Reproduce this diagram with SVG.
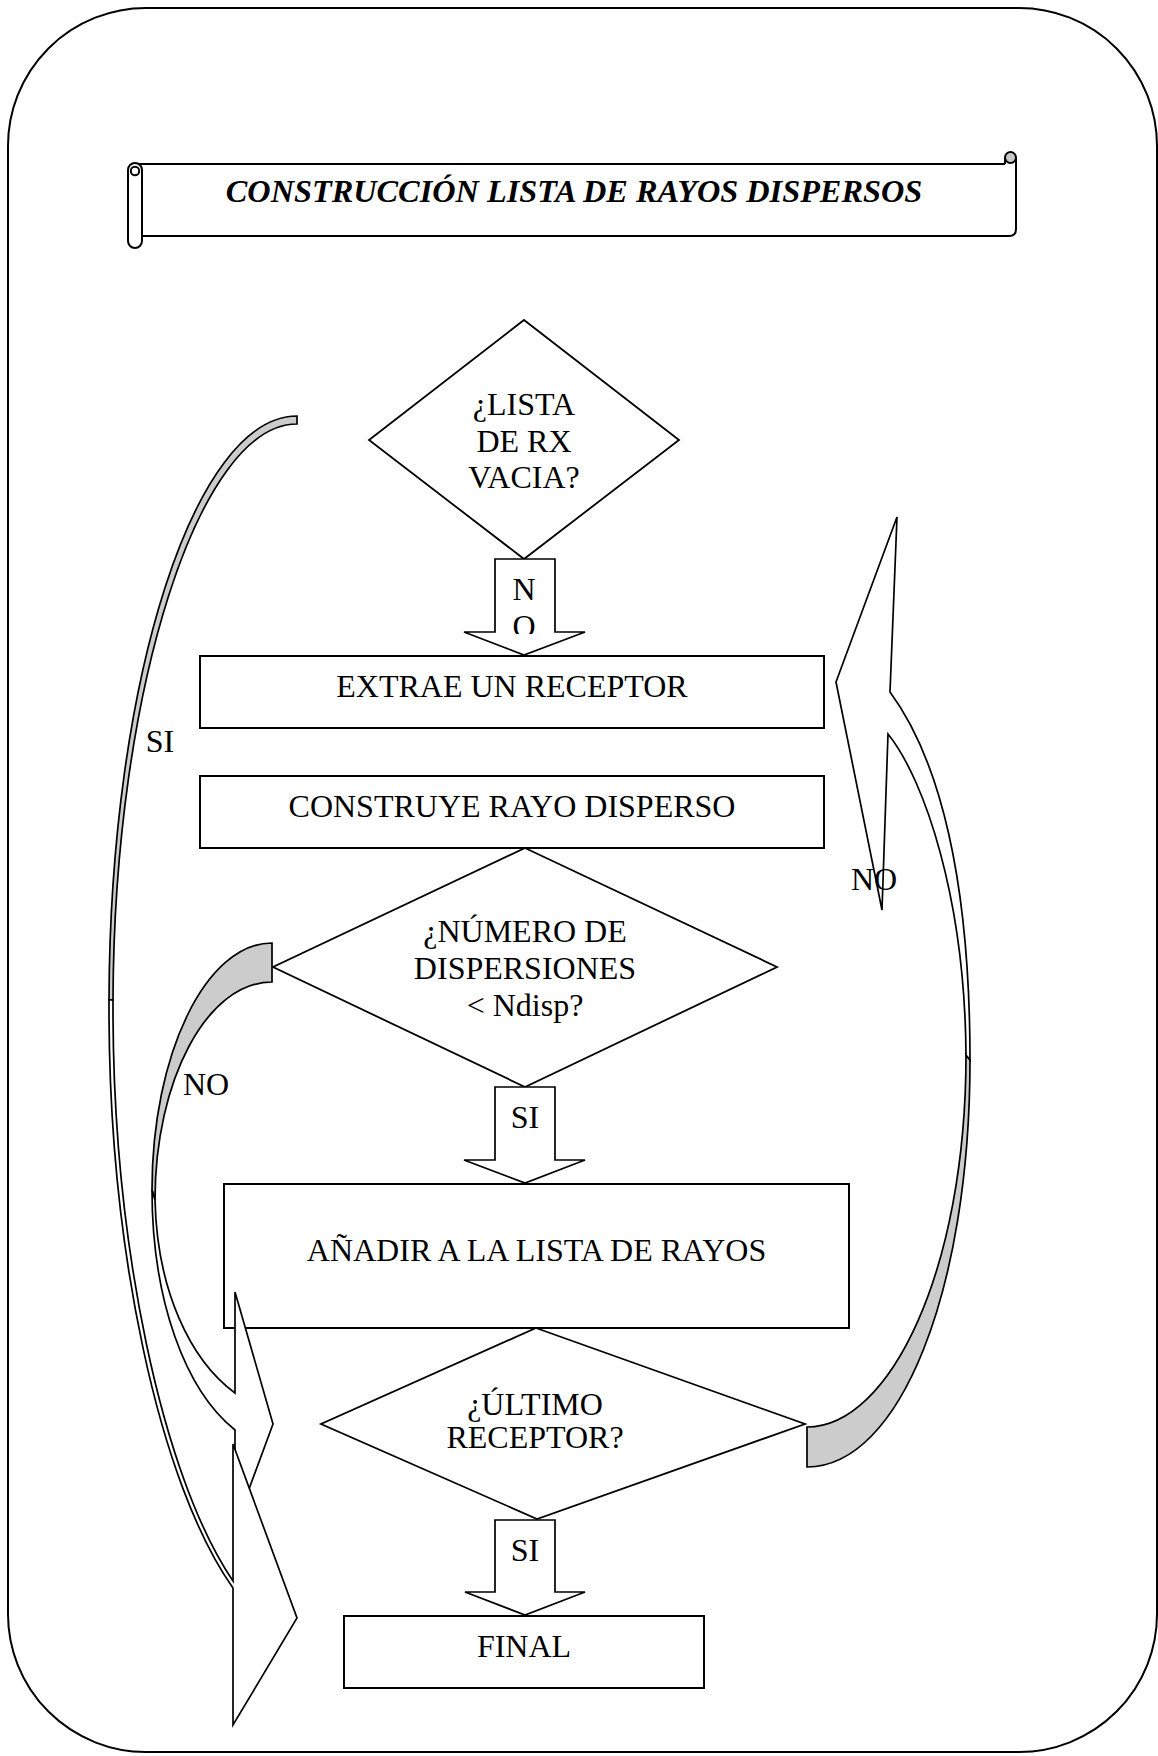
<svg xmlns="http://www.w3.org/2000/svg" width="1158" height="1756" viewBox="0 0 1158 1756">
<defs>
<style>
.frame{fill:none;stroke:#000;stroke-width:2}
.ln{fill:none;stroke:#000;stroke-width:2}
.box{fill:#fff;stroke:#000;stroke-width:2}
.dia{fill:#fff;stroke:#000;stroke-width:1.8;stroke-linejoin:miter}
.arr{fill:#fff;stroke:#000;stroke-width:1.7;stroke-linejoin:miter}
.back{fill:#cccccc;stroke:#000;stroke-width:1.7;stroke-linejoin:miter}
.t{font-family:"Liberation Serif","Times New Roman",serif;font-size:32px;fill:#000;text-anchor:middle}
.title{font-family:"Liberation Serif","Times New Roman",serif;font-size:32.3px;font-weight:bold;font-style:italic;fill:#000;text-anchor:middle}
</style>
<clipPath id="clipNO"><rect x="495" y="560" width="60" height="74"/></clipPath>
</defs>
<rect x="0" y="0" width="1158" height="1756" fill="#fff"/>
<rect class="frame" x="8" y="8" width="1149" height="1744" rx="138" ry="138"/>

<g id="title">
<path class="ln" d="M135,164 L1005,164"/>
<path class="ln" d="M142,236 L1009,236 Q1016,236 1016,229 L1016,158"/>
<path class="ln" d="M1005,164 L1005,158"/>
<circle cx="1010.5" cy="157.5" r="5.5" fill="#c8c8c8" stroke="#000" stroke-width="2"/>
<rect x="128" y="163" width="14" height="85" rx="7" ry="7" fill="#fff" stroke="#000" stroke-width="2"/>
<circle cx="135" cy="171" r="4.2" fill="#fff" stroke="#000" stroke-width="2"/>
<text class="title" x="574" y="202">CONSTRUCCIÓN LISTA DE RAYOS DISPERSOS</text>
</g>

<g id="n_lista_vacia">
<polygon class="dia" points="524,320 679,440 524,559 369,440"/>
<text class="t" x="524" y="415">¿LISTA</text>
<text class="t" x="524" y="452">DE RX</text>
<text class="t" x="524" y="488">VACIA?</text>
</g>

<g id="n_extrae">
<rect class="box" x="200" y="656" width="624" height="72"/>
<text class="t" x="512" y="697">EXTRAE UN RECEPTOR</text>
</g>

<g id="n_construye">
<rect class="box" x="200" y="776" width="624" height="72"/>
<text class="t" x="512" y="817">CONSTRUYE RAYO DISPERSO</text>
</g>

<g id="n_numero">
<polygon class="dia" points="525,848 777,967 525,1087 273,967"/>
<text class="t" x="525" y="942">¿NÚMERO DE</text>
<text class="t" x="525" y="979">DISPERSIONES</text>
<text class="t" x="525" y="1016">&lt; Ndisp?</text>
</g>

<g id="n_anadir">
<rect class="box" x="224" y="1184" width="625" height="144"/>
<text class="t" x="536.5" y="1261">AÑADIR A LA LISTA DE RAYOS</text>
</g>

<g id="n_ultimo">
<polygon class="dia" points="536,1328 805,1424 537,1519 321,1424"/>
<text class="t" x="535" y="1415">¿ÚLTIMO</text>
<text class="t" x="535" y="1448">RECEPTOR?</text>
</g>

<g id="n_final">
<rect class="box" x="344" y="1616" width="360" height="72"/>
<text class="t" x="524" y="1657">FINAL</text>
</g>

<g id="connectors">
<g id="c_no1">
<polygon class="arr" points="495,559 555,559 555,632 585,632 524,655 464,632 495,632"/>
<g clip-path="url(#clipNO)">
<text class="t" x="524" y="600">N</text>
<text class="t" x="524" y="637">O</text>
</g>
</g>
<g id="c_si2">
<polygon class="arr" points="495,1087 555,1087 555,1160 585,1160 525,1183 464,1160 495,1160"/>
<text class="t" x="525" y="1128">SI</text>
</g>
<g id="c_si3">
<polygon class="arr" points="495,1520 555,1520 555,1592 585,1592 525,1615 465,1592 495,1592"/>
<text class="t" x="525" y="1561">SI</text>
</g>
<g id="c_no_right">
<path class="back" d="M807,1427 C890,1427 966,1270 966,1055 L970,1060 C970,1290 900,1467 807,1467 Z"/>
<path class="arr" d="M970,1060 C970,880 940,760 890,692 L897,517 L836,682 L882,910 L888,734 C925,780 965,900 966,1055 Z"/>
</g>
<g id="c_no_left">
<path class="back" d="M272,943 C206,943 152,1054 152,1190 L155,1200 C155,1080 207,982 272,982 Z"/>
<path class="arr" d="M152,1190 C152,1300 185,1390 235,1430 L235,1527 L273,1424 L235,1292 L235,1393 C190,1360 157,1290 155,1200 Z"/>
</g>
<g id="c_si_left">
<path class="back" d="M297,416 C195,416 110,678 109,1000 L113,1000 C114,690 199,424 297,424 Z"/>
<path class="arr" d="M109,1000 C108,1250 160,1485 233,1588 L233,1725 L297,1618 L233,1444 L233,1581 C163,1478 112,1245 113,1000 Z"/>
</g>
</g>

<g id="labels">
<text class="t" x="160" y="752">SI</text>
<text class="t" x="206" y="1095">NO</text>
<text class="t" x="874" y="890">NO</text>
</g>
</svg>
